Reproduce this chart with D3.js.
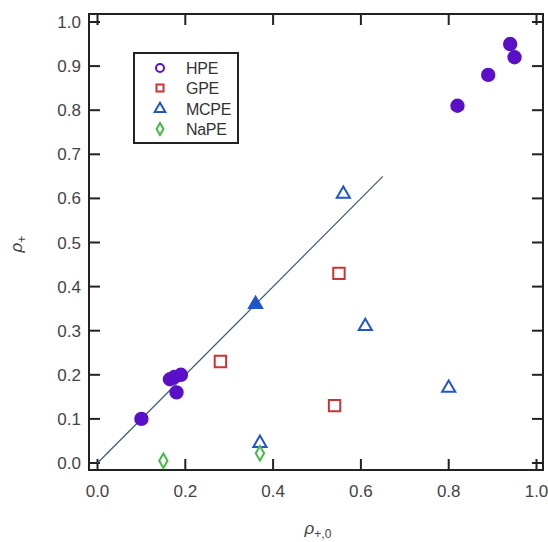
<!DOCTYPE html>
<html>
<head>
<meta charset="utf-8">
<script src="https://cdn.jsdelivr.net/npm/d3@7"></script>
<style>
  body { margin: 0; background: #fff; }
  svg { font-family: Arial, "Liberation Sans", sans-serif; }
</style>
</head>
<body>
<svg id="chart" width="548" height="542"></svg>
<script>
// data
var series = ["HPE", "GPE", "MCPE", "NaPE"];
var hpeX = [0.10, 0.165, 0.18, 0.175, 0.19, 0.82, 0.89, 0.94, 0.95];
var hpeY = [0.10, 0.19, 0.16, 0.195, 0.20, 0.81, 0.88, 0.95, 0.92];
var gpeX = [0.28, 0.55, 0.54];
var gpeY = [0.23, 0.43, 0.13];
var mcpeX = [0.56, 0.61, 0.80, 0.37];
var mcpeY = [0.61, 0.31, 0.17, 0.045];
var mcpeFilledX = [0.36];
var mcpeFilledY = [0.36];
var napeX = [0.15, 0.37];
var napeY = [0.005, 0.022];
var fitLine = [0, 0.65];
var xTicks = [0, 0.2, 0.4, 0.6, 0.8, 1.0];
var yTicks = [0, 0.1, 0.2, 0.3, 0.4, 0.5, 0.6, 0.7, 0.8, 0.9, 1.0];

var svg = d3.select("svg");
var frame = {left: 89, top: 14, right: 543, bottom: 470};

var x = d3.scaleLinear().domain([0, 1]).range([97.5, 536.5]),
    y = d3.scaleLinear().domain([0, 1]).range([463, 22]);

var colors = {HPE: "#5a0fc8", GPE: "#cc3333", MCPE: "#2255cc", NaPE: "#44bb44"};
var shapes = {HPE: d3.symbolCircle, GPE: d3.symbolSquare, MCPE: d3.symbolTriangle, NaPE: d3.symbolDiamond};

// frame
svg.append("rect")
    .attr("x", frame.left).attr("y", frame.top)
    .attr("width", frame.right - frame.left).attr("height", frame.bottom - frame.top)
    .attr("fill", "none").attr("stroke", "#222").attr("stroke-width", 2);

// inward ticks on all sides
var tickLen = 11;
var g = svg.append("g").attr("stroke", "#222").attr("stroke-width", 2);
xTicks.forEach(function(t) {
  g.append("line").attr("x1", x(t)).attr("x2", x(t)).attr("y1", frame.bottom).attr("y2", frame.bottom - tickLen);
  g.append("line").attr("x1", x(t)).attr("x2", x(t)).attr("y1", frame.top).attr("y2", frame.top + tickLen);
});
yTicks.forEach(function(t) {
  g.append("line").attr("y1", y(t)).attr("y2", y(t)).attr("x1", frame.left).attr("x2", frame.left + tickLen);
  g.append("line").attr("y1", y(t)).attr("y2", y(t)).attr("x1", frame.right).attr("x2", frame.right - tickLen);
});

// tick labels
svg.selectAll(".xlab").data(xTicks).enter().append("text")
    .attr("x", function(d) { return x(d); })
    .attr("y", 497)
    .attr("text-anchor", "middle")
    .style("font-size", "17px").style("fill", "#444")
    .text(function(d) { return d3.format(".1f")(d); });

svg.selectAll(".ylab").data(yTicks).enter().append("text")
    .attr("x", 81)
    .attr("y", function(d) { return y(d) + 6; })
    .attr("text-anchor", "end")
    .style("font-size", "17px").style("fill", "#444")
    .text(function(d) { return d3.format(".1f")(d); });

// axis titles
var xt = svg.append("text").attr("x", 318).attr("y", 534).attr("text-anchor", "middle")
    .style("font-size", "17px").style("fill", "#444").style("font-style", "italic");
xt.append("tspan").text("ρ");
xt.append("tspan").attr("dy", 4).style("font-size", "12px").style("font-style", "normal").text("+,0");

var yt = svg.append("text").attr("transform", "translate(22,244) rotate(-90)").attr("text-anchor", "middle")
    .style("font-size", "17px").style("fill", "#444").style("font-style", "italic");
yt.append("tspan").text("ρ");
yt.append("tspan").attr("dy", 4).style("font-size", "12px").style("font-style", "normal").text("+");

// fit line
svg.append("line")
    .attr("x1", x(fitLine[0])).attr("y1", y(fitLine[0]))
    .attr("x2", x(fitLine[1])).attr("y2", y(fitLine[1]))
    .attr("stroke", "#3d5a78").attr("stroke-width", 1.2);

function drawPoints(xs, ys, name, filled, size) {
  var pts = xs.map(function(v, i) { return {x: v, y: ys[i]}; });
  svg.append("g").selectAll("path").data(pts).enter().append("path")
      .attr("transform", function(d) { return "translate(" + x(d.x) + "," + y(d.y) + ")"; })
      .attr("d", d3.symbol().type(shapes[name]).size(size))
      .attr("fill", filled ? colors[name] : "none")
      .attr("stroke", colors[name])
      .attr("stroke-width", 2);
}

drawPoints(gpeX, gpeY, "GPE", false, 130);
drawPoints(mcpeX, mcpeY, "MCPE", false, 75);
drawPoints(mcpeFilledX, mcpeFilledY, "MCPE", true, 75);
drawPoints(napeX, napeY, "NaPE", false, 60);
drawPoints(hpeX, hpeY, "HPE", true, 120);

// legend
var legend = svg.append("g");
legend.append("rect")
    .attr("x", 134).attr("y", 53).attr("width", 104).attr("height", 90)
    .attr("fill", "#fff").attr("stroke", "#222").attr("stroke-width", 2);
var rowY = [68, 88, 109, 129];
series.forEach(function(s, i) {
  legend.append("path")
      .attr("transform", "translate(160," + rowY[i] + ")")
      .attr("d", d3.symbol().type(shapes[s]).size(s === "NaPE" ? 40 : 50))
      .attr("fill", "none").attr("stroke", colors[s]).attr("stroke-width", 2);
  legend.append("text")
      .attr("x", 186).attr("y", rowY[i] + 6)
      .style("font-size", "16px").style("fill", "#333")
      .style("letter-spacing", "-0.3px")
      .text(s);
});
</script>
</body>
</html>
